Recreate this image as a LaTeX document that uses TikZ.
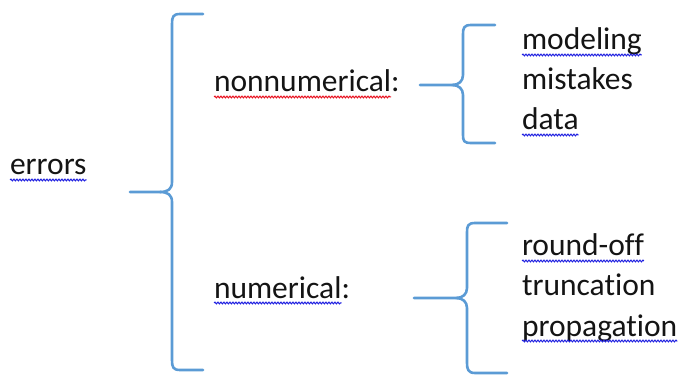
\documentclass[tikz,border=0pt]{standalone}
\usepackage{fontspec}
\setmainfont{Carlito}[RawFeature={-liga;-clig;-calt;-dlig}]
\usetikzlibrary{decorations.pathmorphing}
\definecolor{bracecol}{HTML}{5B9BD5}
\definecolor{spellblue}{HTML}{1F1FE0}
\definecolor{spellred}{HTML}{E8101E}
\tikzset{
  word/.style={anchor=base west, inner sep=0pt, outer sep=0pt, font=\fontsize{31.5}{36}\selectfont, text=black!92},
  brace/.style={draw=bracecol, line width=2.6pt, line cap=round, line join=round},
  squig/.style={draw=#1, line width=1pt, decorate, decoration={snake, amplitude=0.9pt, segment length=3pt}},
}
\begin{document}
\begin{tikzpicture}[x=1pt,y=1pt]
\useasboundingbox (0,0) rectangle (680,375);
% texts (y = 375 - pixel row)
\node[word] (errors) at (10,200) {errors};
\node[word] (nonnum) at (214,283) {nonnumerical};
\node[word] (colA) at (nonnum.base east) {:};
\node[word] (num) at (214,77) {numerical};
\node[word] (colB) at (num.base east) {:};
\node[word] (modeling) at (522,325) {modeling};
\node[word] (mistakes) at (522,285) {mistakes};
\node[word] (data) at (522,245) {data};
\node[word] (roundoff) at (522,119) {round-off};
\node[word] (truncation) at (522,79) {truncation};
\node[word] (propagation) at (522,39) {propagation};
% spell-check underlines
\foreach \n/\c in {errors/spellblue, nonnum/spellred, num/spellblue, modeling/spellblue, data/spellblue, roundoff/spellblue, propagation/spellblue}{
  \draw[squig=\c] ([yshift=-5pt]\n.base west) -- ([yshift=-5pt]\n.base east);
}
% big brace
\draw[brace] (203,361) -- (180,361) .. controls (173,361) and (172,358) .. (172,351) -- (172,193)
  .. controls (172,186) and (168,183) .. (160,183) -- (130,183);
\draw[brace] (160,183) .. controls (168,183) and (172,180) .. (172,173) -- (172,15)
  .. controls (172,8) and (173,5) .. (180,5) -- (203,5);
% upper small brace
\draw[brace] (495,350) -- (471,350) .. controls (464,350) and (463,347) .. (463,341) -- (463,300)
  .. controls (463,294) and (459,290) .. (452,290) -- (420,290);
\draw[brace] (452,290) .. controls (459,290) and (463,286) .. (463,280) -- (463,240)
  .. controls (463,234) and (464,232) .. (471,232) -- (495,232);
% lower small brace
\draw[brace] (507,152) -- (475,152) .. controls (468,152) and (467,149) .. (467,143) -- (467,87)
  .. controls (467,81) and (463,77) .. (456,77) -- (414,77);
\draw[brace] (456,77) .. controls (463,77) and (467,73) .. (467,67) -- (467,12)
  .. controls (467,6) and (468,2) .. (475,2) -- (507,2);
\end{tikzpicture}
\end{document}
